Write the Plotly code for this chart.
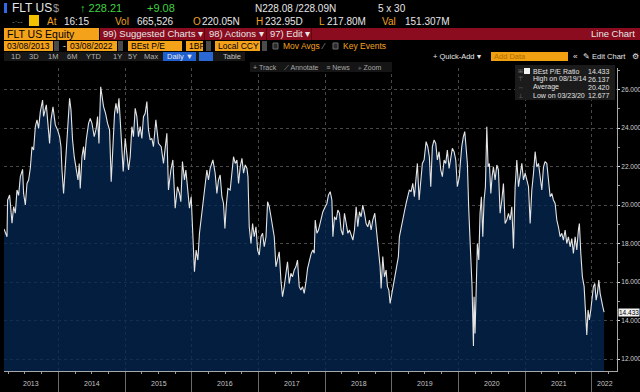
import plotly.graph_objects as go
from datetime import datetime

# ---------------- data (decimal year, BEst P/E) ----------------
years = [
    2013.181, 2013.226, 2013.235, 2013.265, 2013.301, 2013.325, 2013.351, 2013.376, 2013.400, 2013.426,
    2013.460, 2013.475, 2013.501, 2013.526, 2013.550, 2013.576, 2013.601, 2013.625, 2013.651, 2013.676,
    2013.700, 2013.726, 2013.760, 2013.775, 2013.816, 2013.841, 2013.865, 2013.886, 2013.916, 2013.951,
    2013.985, 2014.015, 2014.036, 2014.051, 2014.075, 2014.100, 2014.126, 2014.150, 2014.165, 2014.186,
    2014.210, 2014.235, 2014.265, 2014.291, 2014.310, 2014.325, 2014.351, 2014.375, 2014.390, 2014.415,
    2014.450, 2014.475, 2014.501, 2014.535, 2014.565, 2014.585, 2014.606, 2014.620, 2014.632, 2014.675,
    2014.705, 2014.735, 2014.765, 2014.790, 2014.816, 2014.840, 2014.861, 2014.885, 2014.906, 2014.925,
    2014.951, 2014.970, 2015.000, 2015.025, 2015.050, 2015.075, 2015.100, 2015.124, 2015.150, 2015.175,
    2015.199, 2015.225, 2015.250, 2015.274, 2015.300, 2015.325, 2015.349, 2015.375, 2015.400, 2015.424,
    2015.460, 2015.499, 2015.540, 2015.574, 2015.625, 2015.649, 2015.685, 2015.715, 2015.750, 2015.784,
    2015.814, 2015.835, 2015.859, 2015.889, 2015.910, 2015.934, 2015.964, 2015.990, 2016.015, 2016.039,
    2016.064, 2016.090, 2016.114, 2016.139, 2016.165, 2016.189, 2016.225, 2016.249, 2016.274, 2016.315,
    2016.349, 2016.375, 2016.399, 2016.424, 2016.450, 2016.474, 2016.495, 2016.514, 2016.540, 2016.574,
    2016.600, 2016.624, 2016.649, 2016.675, 2016.699, 2016.724, 2016.750, 2016.774, 2016.799, 2016.825,
    2016.840, 2016.859, 2016.885, 2016.909, 2016.934, 2016.960, 2016.984, 2017.009, 2017.035, 2017.059,
    2017.084, 2017.110, 2017.134, 2017.159, 2017.185, 2017.209, 2017.234, 2017.259, 2017.283, 2017.309,
    2017.334, 2017.358, 2017.384, 2017.409, 2017.433, 2017.459, 2017.484, 2017.508, 2017.534, 2017.559,
    2017.583, 2017.609, 2017.634, 2017.658, 2017.684, 2017.714, 2017.734, 2017.764, 2017.789, 2017.814,
    2017.834, 2017.849, 2017.874, 2017.898, 2017.934, 2017.964, 2017.999, 2018.024, 2018.048, 2018.074,
    2018.099, 2018.114, 2018.138, 2018.163, 2018.189, 2018.213, 2018.238, 2018.264, 2018.288, 2018.313,
    2018.339, 2018.363, 2018.388, 2018.414, 2018.438, 2018.463, 2018.488, 2018.513, 2018.538, 2018.563,
    2018.588, 2018.613, 2018.638, 2018.663, 2018.688, 2018.713, 2018.743, 2018.773, 2018.798, 2018.823,
    2018.838, 2018.863, 2018.888, 2018.913, 2018.933, 2018.954, 2018.973, 2018.999, 2019.023, 2019.048,
    2019.073, 2019.097, 2019.112, 2019.138, 2019.163, 2019.187, 2019.213, 2019.238, 2019.262, 2019.288,
    2019.313, 2019.337, 2019.363, 2019.382, 2019.408, 2019.433, 2019.457, 2019.483, 2019.513, 2019.538,
    2019.562, 2019.583, 2019.607, 2019.633, 2019.658, 2019.682, 2019.708, 2019.733, 2019.757, 2019.783,
    2019.808, 2019.832, 2019.858, 2019.883, 2019.907, 2019.933, 2019.958, 2019.982, 2020.012, 2020.022,
    2020.048, 2020.072, 2020.093, 2020.112, 2020.132, 2020.153, 2020.173, 2020.187, 2020.202, 2020.223,
    2020.232, 2020.247, 2020.262, 2020.282, 2020.303, 2020.322, 2020.342, 2020.363, 2020.382, 2020.402,
    2020.423, 2020.442, 2020.462, 2020.483, 2020.502, 2020.522, 2020.547, 2020.573, 2020.597, 2020.622,
    2020.648, 2020.672, 2020.697, 2020.722, 2020.747, 2020.772, 2020.797, 2020.822, 2020.847, 2020.872,
    2020.897, 2020.922, 2020.947, 2020.972, 2020.997, 2021.022, 2021.047, 2021.072, 2021.097, 2021.122,
    2021.147, 2021.172, 2021.197, 2021.222, 2021.247, 2021.272, 2021.297, 2021.322, 2021.346, 2021.372,
    2021.397, 2021.421, 2021.447, 2021.472, 2021.496, 2021.522, 2021.547, 2021.571, 2021.597, 2021.622,
    2021.646, 2021.672, 2021.697, 2021.721, 2021.747, 2021.772, 2021.796, 2021.811, 2021.832, 2021.856,
    2021.882, 2021.901, 2021.922, 2021.941, 2021.961, 2021.982, 2022.002, 2022.021, 2022.042, 2022.062,
    2022.081, 2022.102, 2022.122, 2022.147, 2022.162, 2022.181,
]
pe = [
    18.75, 18.35, 20.26, 20.52, 19.06, 19.91, 19.58, 20.78, 20.50, 21.47,
    21.85, 20.60, 20.00, 21.12, 21.30, 21.92, 23.03, 22.86, 24.07, 24.42,
    23.98, 24.85, 25.45, 24.60, 25.20, 24.07, 23.20, 24.42, 25.10, 24.16,
    23.90, 23.55, 23.03, 21.82, 20.60, 21.98, 23.38, 24.76, 25.54, 24.94,
    23.38, 22.51, 21.82, 21.30, 22.16, 20.86, 22.51, 23.03, 22.34, 23.38,
    24.24, 24.50, 24.24, 23.55, 23.98, 24.59, 23.20, 25.11, 26.137, 25.11,
    24.76, 24.24, 23.90, 21.21, 23.20, 24.76, 25.28, 24.76, 25.54, 24.42,
    23.03, 21.74, 23.46, 22.51, 21.82, 22.51, 24.07, 23.55, 25.02, 24.59,
    23.55, 24.07, 23.46, 24.59, 24.76, 25.37, 23.90, 23.38, 23.46, 23.03,
    24.42, 23.20, 23.03, 22.16, 23.72, 20.78, 21.82, 22.34, 19.83, 20.95,
    20.60, 20.17, 22.26, 21.30, 21.82, 20.95, 19.83, 20.43, 18.53, 16.53,
    17.66, 17.14, 18.53, 19.22, 19.91, 20.78, 21.82, 21.30, 21.90, 22.34,
    21.65, 20.60, 21.30, 21.56, 20.43, 20.08, 18.78, 19.91, 20.86, 20.78,
    21.65, 22.51, 22.16, 22.34, 21.12, 21.98, 22.42, 21.65, 22.08, 21.90,
    21.47, 18.87, 18.00, 19.04, 18.35, 18.87, 17.66, 17.40, 18.35, 18.53,
    17.83, 18.35, 20.17, 19.91, 19.39, 18.87, 18.35, 16.79, 17.14, 17.57,
    16.10, 15.24, 15.76, 16.45, 17.05, 15.92, 16.45, 16.27, 16.62, 16.79,
    17.14, 15.76, 15.58, 15.76, 15.41, 16.10, 16.70, 17.14, 17.49, 17.66,
    17.49, 19.22, 18.53, 18.70, 19.22, 19.65, 19.91, 20.08, 20.52, 20.69,
    20.26, 18.35, 19.39, 19.22, 19.74, 19.57, 18.70, 18.44, 19.57, 19.04,
    18.53, 18.70, 18.44, 18.18, 18.70, 19.91, 18.87, 19.65, 19.39, 20.00,
    19.57, 19.04, 18.87, 19.22, 18.70, 19.22, 19.57, 18.53, 17.32, 16.79,
    15.67, 17.32, 16.27, 16.62, 15.76, 15.58, 14.89, 15.41, 15.92, 16.45,
    16.97, 17.32, 18.35, 18.87, 19.22, 19.65, 20.08, 20.52, 20.78, 20.69,
    21.12, 20.43, 21.47, 22.16, 20.26, 21.47, 22.16, 22.34, 23.29, 23.03,
    22.51, 20.95, 23.03, 23.38, 23.20, 22.34, 22.77, 21.82, 21.47, 22.34,
    22.16, 22.86, 21.90, 22.42, 22.95, 22.77, 22.34, 20.95, 21.47, 21.98,
    23.03, 23.55, 23.81, 23.03, 22.16, 19.74, 18.18, 16.62, 15.76, 12.677,
    15.24, 13.33, 16.10, 18.00, 17.14, 19.57, 20.43, 18.35, 20.26, 20.95,
    24.07, 21.98, 22.16, 20.60, 21.47, 21.98, 21.30, 22.08, 21.82, 19.57,
    20.26, 21.12, 19.04, 19.22, 19.57, 19.22, 19.91, 17.74, 20.95, 22.34,
    20.95, 21.47, 22.16, 21.30, 21.65, 21.30, 20.95, 19.04, 20.78, 21.65,
    22.77, 21.98, 22.16, 21.47, 20.78, 21.98, 22.26, 22.16, 21.47, 20.43,
    20.60, 20.26, 20.08, 19.22, 18.87, 18.35, 18.53, 18.18, 18.70, 18.00,
    18.35, 17.83, 18.26, 17.49, 18.35, 17.66, 18.70, 19.04, 17.49, 16.27,
    15.76, 14.72, 13.25, 14.55, 14.03, 14.55, 15.06, 15.76, 15.92, 15.06,
    15.41, 16.10, 15.41, 14.89, 14.72, 14.433,
]

year_labels = ["2013", "2014", "2015", "2016", "2017", "2018", "2019", "2020", "2021", "2022"]
y_ticks = [12, 14, 16, 18, 20, 22, 24, 26]
legend_rows = [("BEst P/E Ratio", "14.433"), ("High on 08/19/14", "26.137"),
               ("Average", "20.420"), ("Low on 03/23/20", "12.677")]
last_value = 14.433
x_start, x_end = "2013-03-08", "2022-05-18"


def dec2date(t):
    y = int(t)
    a, b = datetime(y, 1, 1), datetime(y + 1, 1, 1)
    return a + (b - a) * (t - y)


dates = [dec2date(t) for t in years]

# ---------------- page geometry helpers (decoration only) ----------------
W, H = 640, 392
L, R, T, B = 4, 23, 68, 21
PW, PH = W - L - R, H - T - B
FONT = "Liberation Sans, Arial, sans-serif"


def xp(px):
    return (px - L) / PW


def yp(py):
    return (H - B - py) / PH


shapes, annotations = [], []


def rect(x0, x1, y0, y1, color, line=None):
    shapes.append(dict(type="rect", xref="paper", yref="paper",
                       x0=xp(x0), x1=xp(x1), y0=yp(y1), y1=yp(y0),
                       fillcolor=color, layer="above",
                       line=dict(width=0) if line is None else dict(color=line, width=1)))


def text(x, y, s, color, size, anchor="left"):
    annotations.append(dict(text=s, x=xp(x), y=yp(y), xref="paper", yref="paper",
                            xanchor=anchor, yanchor="middle", showarrow=False,
                            borderpad=0, font=dict(color=color, size=size, family=FONT)))


ORANGE = "#f5a21b"
OTXT = "#f0a020"
GREEN = "#3fd33f"
WHITE = "#e6e6e6"

# Row 1
rect(4, 7, 3, 13, "#2f6be8")
text(11, 8, "FLT US", WHITE, 12)
text(52, 8, "$", "#9a9a9a", 11)
text(79, 8, "↑ 228.21", GREEN, 11)
text(146, 8, "+9.08", GREEN, 11)
text(254, 8, "N228.08 /228.09N", WHITE, 10)
text(377, 8, "5 x 30", WHITE, 10)

# Row 2
text(11, 21, "-·--", "#8a8a8a", 8)
rect(29, 39, 15, 26, "#f2c200")
text(46, 21, "At", OTXT, 10)
text(63, 21, "16:15", WHITE, 10)
text(114, 21, "Vol", OTXT, 10)
text(136, 21, "665,526", WHITE, 10)
text(192, 21, "O", OTXT, 10)
text(201, 21, "220.05N", WHITE, 10)
text(255, 21, "H", OTXT, 10)
text(264, 21, "232.95D", WHITE, 10)
text(318, 21, "L", OTXT, 10)
text(326, 21, "217.80M", WHITE, 10)
text(381, 21, "Val", OTXT, 10)
text(404, 21, "151.307M", WHITE, 10)

# Row 3
rect(4, 99, 28, 40, ORANGE)
text(6, 34, "FLT US Equity", "#000000", 10.5)
rect(100, 640, 28, 40, "#8a0c1e")
for sx in (204, 266, 311):
    rect(sx, sx + 1, 28, 40, "#5c0614")
text(102, 34, "99) Suggested Charts ▾", WHITE, 9.5)
text(208, 34, "98) Actions ▾", WHITE, 9.5)
text(269, 34, "97) Edit ▾", WHITE, 9.5)
text(636, 34, "Line Chart", WHITE, 9.5, anchor="right")

# Row 4
for x0, x1, s in [(4, 53, "03/08/2013"), (67, 117, "03/08/2022"), (128, 182, "BEst P/E"),
                  (186, 203, "1BF"), (215, 260, "Local CCY")]:
    rect(x0, x1, 41, 51, ORANGE)
    text(x0 + 2, 46, s, "#000000", 8.5)
for x0 in (54, 118, 206, 262):
    rect(x0, x0 + 5, 41, 51, "#4a4a4a")
text(62, 46, "-", WHITE, 8.5)
rect(273, 278, 43, 49, "#2a2a2a", line="#6a6a6a")
text(282, 46, "Mov Avgs", OTXT, 8.5)
text(320, 46, "⁄", "#9a9a9a", 8.5)
rect(333, 338, 43, 49, "#2a2a2a", line="#6a6a6a")
text(342, 46, "Key Events", OTXT, 8.5)

# Row 5
rect(4, 245, 52, 61, "#171717")
for xx, s in [(10, "1D"), (28, "3D"), (47, "1M"), (66, "6M"), (85, "YTD"),
              (112, "1Y"), (127, "5Y"), (143, "Max")]:
    text(xx, 56.5, s, "#b4b4b4", 7.5)
rect(163, 196, 52, 61, "#1f5fd0")
text(166, 56.5, "Daily ▼", WHITE, 7.5)
rect(199, 213, 52, 61, "#2a68d4")
text(222, 56.5, "Table", "#c4c4c4", 7.5)
text(432, 56.5, "+ Quick-Add ▾", WHITE, 7.5)
rect(491, 568, 52, 61, "#f0a010")
text(493, 56.5, "Add Data", "#b06c00", 7.5)
text(572, 56.5, "«", WHITE, 8)
text(582, 56.5, "✎ Edit Chart", WHITE, 7.5)
text(631, 56.5, "⚙", WHITE, 8)

# Row 6 (chart tools)
rect(250, 392, 62, 72, "#151515")
text(252, 67, "+ Track    ⟋ Annotate    ≡ News    ⌕ Zoom", "#a8a8a8", 7)

# Legend box
rect(515, 615, 65, 100, "rgba(28,28,28,0.95)")
rect(524, 530, 68, 74, "#f2f2f2")
for i, (lab, val) in enumerate(legend_rows):
    yy = 71 + i * 8.2
    text(532, yy, lab, "#e2e2e2", 7)
    text(611, yy, val, "#e2e2e2", 7, anchor="right")
for i, ic in enumerate(["⊞", "⊤", "↔", "⊥"]):
    text(517, 71 + i * 8.2, ic, "#7a7a7a", 6)

# Last value tag
annotations.append(dict(text=f"{last_value:.3f}", x=xp(618), y=last_value, xref="paper", yref="y",
                        xanchor="left", yanchor="middle", showarrow=False, bgcolor="#f2f2f2",
                        borderpad=0, font=dict(color="#000000", size=6.5, family=FONT)))

# Year labels centred in the visible part of each year
x0d, x1d = datetime.fromisoformat(x_start), datetime.fromisoformat(x_end)
for lab in year_labels:
    y = int(lab)
    a = max(datetime(y, 1, 1), x0d)
    b = min(datetime(y + 1, 1, 1), x1d)
    annotations.append(dict(text=lab, x=a + (b - a) / 2, y=yp(383), xref="x", yref="paper",
                            xanchor="center", yanchor="middle", showarrow=False,
                            font=dict(color="#c4c4c4", size=7, family=FONT)))

fig = go.Figure()
fig.add_trace(go.Scatter(x=dates, y=pe, mode="lines",
                         line=dict(color="#e4e4e4", width=1.1),
                         fill="tozeroy", fillcolor="rgba(4,38,80,0.78)",
                         hoverinfo="skip"))

fig.update_layout(
    width=W, height=H,
    margin=dict(l=L, r=R, t=T, b=B, autoexpand=False),
    paper_bgcolor="#000000", plot_bgcolor="#000000",
    showlegend=False,
    shapes=shapes, annotations=annotations,
    font=dict(family=FONT, color="#cccccc"),
    xaxis=dict(
        type="date", range=[x_start, x_end],
        tickmode="array",
        tickvals=[f"{y}-01-01" for y in range(2014, 2023)],
        ticktext=["" for _ in range(2014, 2023)],
        ticks="outside", ticklen=21, tickcolor="#6a6a6a", tickwidth=1,
        showgrid=True, gridcolor="#484848", griddash="dot", gridwidth=1,
        showline=True, linecolor="#a8a8a8", linewidth=1,
        zeroline=False, automargin=False, fixedrange=True,
        minor=dict(tickmode="linear", tick0="2013-01-01", dtick="M3",
                   ticks="outside", ticklen=2, tickcolor="#9a9a9a", showgrid=False),
    ),
    yaxis=dict(
        side="right", range=[11.377, 27.117],
        tickmode="array", tickvals=y_ticks,
        ticktext=[f"{v:.3f}" for v in y_ticks],
        ticks="outside", ticklen=2, tickcolor="#e0e0e0",
        tickfont=dict(size=6.5, color="#d0d0d0", family=FONT),
        showgrid=True, gridcolor="#484848", griddash="dot", gridwidth=1,
        showline=True, linecolor="#a8a8a8", linewidth=1,
        zeroline=False, automargin=False, fixedrange=True,
        minor=dict(tickmode="linear", tick0=11, dtick=1, ticks="outside",
                   ticklen=2, tickcolor="#9a9a9a", showgrid=False),
    ),
)

fig.write_html("out.html", config={"displayModeBar": False},
               post_script="document.body.style.margin='0';document.body.style.overflow='hidden';")
